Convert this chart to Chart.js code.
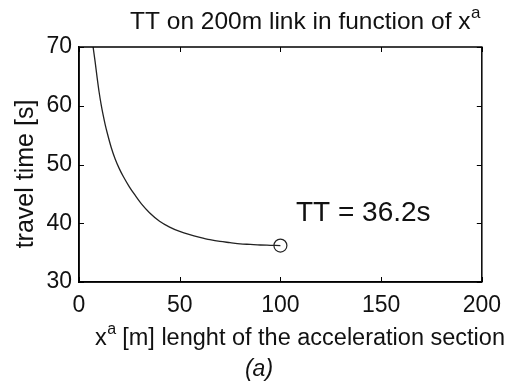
<!DOCTYPE html>
<html>
<head>
<meta charset="utf-8">
<script src="https://cdn.jsdelivr.net/npm/chart.js@4/dist/chart.umd.min.js"></script>
<style>
html,body{margin:0;padding:0;background:#fff;}
#wrap{width:511px;height:381px;position:relative;}
</style>
</head>
<body>
<div id="wrap"><canvas id="c" width="511" height="381"></canvas></div>
<script>
// Data
const xLength = [7, 8, 9, 10, 11, 12, 13, 14, 16, 18, 20, 22, 25, 28, 31, 35, 40, 45, 50, 55, 60, 65, 70, 75, 80, 85, 90, 95, 100];
const travelTime = [70, 67.5, 64.8, 62.3, 60.2, 58.4, 56.8, 55.4, 52.9, 50.9, 49.3, 47.95, 46.2, 44.7, 43.3, 41.8, 40.35, 39.35, 38.6, 38.05, 37.6, 37.2, 36.9, 36.7, 36.5, 36.4, 36.3, 36.25, 36.2];
const markerX = [100];
const markerY = [36.2];
const xTicks = [0, 50, 100, 150, 200];
const yTicks = [30, 40, 50, 60, 70];
const titleMain = 'TT on 200m link in function of x';
const titleSup = 'a';
const xLabelPre = 'x';
const xLabelSup = 'a';
const xLabelRest = ' [m] lenght of the acceleration section';
const yLabel = 'travel time [s]';
const annotation = 'TT = 36.2s';
const subLabel = '(a)';

const FONT = '"Liberation Sans", Arial, sans-serif';

function drawSup(ctx, x, y, main, sup, rest, size, align) {
  const supSize = Math.round(size * 0.68);
  ctx.font = size + 'px ' + FONT;
  const wMain = ctx.measureText(main).width;
  ctx.font = supSize + 'px ' + FONT;
  const wSup = ctx.measureText(sup).width;
  ctx.font = size + 'px ' + FONT;
  const wRest = rest ? ctx.measureText(rest).width : 0;
  const total = wMain + wSup + wRest;
  let sx = x;
  if (align === 'center') sx = x - total / 2;
  ctx.textAlign = 'left';
  ctx.textBaseline = 'alphabetic';
  ctx.fillText(main, sx, y);
  ctx.font = supSize + 'px ' + FONT;
  ctx.fillText(sup, sx + wMain + 0.5, y - size * 0.45);
  if (rest) {
    ctx.font = size + 'px ' + FONT;
    ctx.fillText(rest, sx + wMain + wSup, y);
  }
}

const boxPlugin = {
  id: 'boxPlugin',
  afterDraw(chart) {
    const ctx = chart.ctx;
    const a = chart.chartArea;
    const xs = chart.scales.x, ys = chart.scales.y;
    ctx.save();
    ctx.strokeStyle = '#000';
    ctx.lineWidth = 1.5;
    ctx.strokeRect(a.left, a.top, a.right - a.left, a.bottom - a.top);
    ctx.lineWidth = 1;
    const tl = 5;
    xTicks.forEach(v => {
      const px = Math.round(xs.getPixelForValue(v)) + 0.5;
      ctx.beginPath();
      ctx.moveTo(px, a.bottom); ctx.lineTo(px, a.bottom - tl);
      ctx.moveTo(px, a.top); ctx.lineTo(px, a.top + tl);
      ctx.stroke();
    });
    yTicks.forEach(v => {
      const py = Math.round(ys.getPixelForValue(v)) + 0.5;
      ctx.beginPath();
      ctx.moveTo(a.left, py); ctx.lineTo(a.left + tl, py);
      ctx.moveTo(a.right, py); ctx.lineTo(a.right - tl, py);
      ctx.stroke();
    });
    ctx.fillStyle = '#111';
    // title
    drawSup(ctx, 305, 29, titleMain, titleSup, '', 24.5, 'center');
    // x label
    drawSup(ctx, 300, 345, xLabelPre, xLabelSup, xLabelRest, 23.5, 'center');
    // (a)
    ctx.font = 'italic 23px ' + FONT;
    ctx.textAlign = 'center';
    ctx.fillText(subLabel, 259, 376);
    // y label
    ctx.save();
    ctx.translate(33, 174);
    ctx.rotate(-Math.PI / 2);
    ctx.font = '25px ' + FONT;
    ctx.textAlign = 'center';
    ctx.textBaseline = 'alphabetic';
    ctx.fillText(yLabel, 0, 0);
    ctx.restore();
    // annotation
    ctx.font = '28px ' + FONT;
    ctx.textAlign = 'left';
    ctx.fillText(annotation, 296, 221);
    ctx.restore();
  }
};

new Chart(document.getElementById('c'), {
  type: 'scatter',
  data: {
    datasets: [
      {
        data: xLength.map((x, i) => ({x: x, y: travelTime[i]})),
        showLine: true,
        borderColor: '#222',
        borderWidth: 1.3,
        pointRadius: 0,
        cubicInterpolationMode: 'monotone'
      },
      {
        data: markerX.map((x, i) => ({x: x, y: markerY[i]})),
        showLine: false,
        pointRadius: 6.5,
        pointBorderColor: '#222',
        pointBorderWidth: 1.2,
        pointBackgroundColor: 'rgba(0,0,0,0)'
      }
    ]
  },
  options: {
    responsive: false,
    animation: false,
    devicePixelRatio: 1,
    layout: { padding: { left: 0, right: 24, top: 47, bottom: 60 } },
    plugins: { legend: { display: false }, tooltip: { enabled: false } },
    scales: {
      x: {
        type: 'linear', min: 0, max: 200,
        afterBuildTicks: s => { s.ticks = xTicks.map(v => ({value: v})); },
        afterFit: s => { s.height = 39; },
        grid: { display: false, drawTicks: false },
        border: { display: true, color: '#000', width: 1.5 },
        ticks: { color: '#111', font: { family: FONT, size: 23 }, padding: 10, maxRotation: 0 }
      },
      y: {
        type: 'linear', min: 30, max: 70,
        afterBuildTicks: s => { s.ticks = yTicks.map(v => ({value: v})); },
        afterFit: s => { s.width = 79; },
        grid: { display: false, drawTicks: false },
        border: { display: true, color: '#000', width: 1.5 },
        ticks: { color: '#111', font: { family: FONT, size: 23 }, padding: 7 }
      }
    }
  },
  plugins: [boxPlugin]
});
</script>
</body>
</html>
